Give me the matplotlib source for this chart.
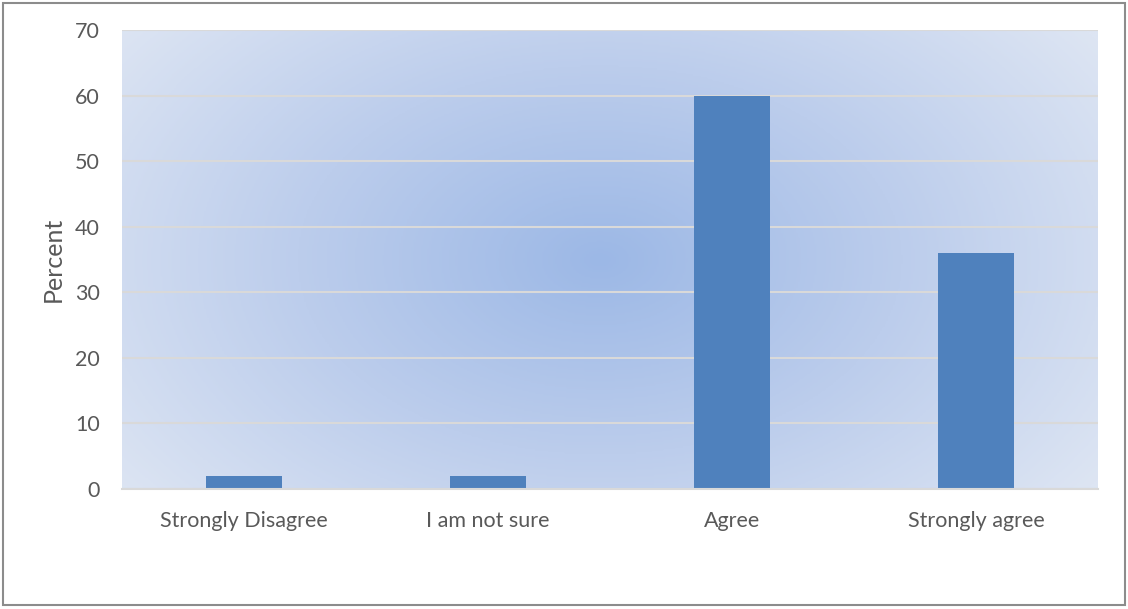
import numpy as np
import matplotlib
matplotlib.use("Agg")
import matplotlib.pyplot as plt
from matplotlib.colors import LinearSegmentedColormap
from matplotlib.patches import Rectangle

categories = ["Strongly Disagree", "I am not sure", "Agree", "Strongly agree"]
percent = [2, 2, 60, 36]
y_ticks = [0, 10, 20, 30, 40, 50, 60, 70]

W, H = 1128, 609
fig = plt.figure(figsize=(W / 100, H / 100), dpi=100)
fig.patch.set_facecolor("white")

# outer chart border
fig.add_artist(Rectangle((3 / W, 4 / H), (W - 6) / W, (H - 7) / H,
                         transform=fig.transFigure, fill=False,
                         edgecolor="#8c8c8c", linewidth=1.5))

ax = fig.add_axes([122 / W, (H - 489) / H, (1098 - 122) / W, (489 - 30) / H])

# radial gradient plot-area fill
nx, ny = 600, 300
xs = np.linspace(0, 1, nx)
ys = np.linspace(0, 1, ny)
X, Y = np.meshgrid(xs, ys)
cx, cy = (600 - 122) / (1098 - 122), (489 - 260) / (489 - 30)
R = np.sqrt(((X - cx) / 0.62) ** 2 + ((Y - cy) / 0.85) ** 2)
R = np.clip(R, 0, 1)
cmap = LinearSegmentedColormap.from_list("bg", ["#9cb8e6", "#bccdec", "#dde5f3"])
ax.imshow(R, cmap=cmap, extent=(0, 1, 0, 1), origin="lower",
          transform=ax.transAxes, aspect="auto", zorder=0, vmin=0, vmax=1)

x = np.arange(len(categories))
ax.bar(x, percent, width=0.315, color="#4f81bd", zorder=3)

ax.set_xlim(-0.5, len(categories) - 0.5)
ax.set_ylim(0, 70)
ax.set_yticks(y_ticks)
ax.set_xticks(x)
ax.set_xticklabels(categories)

font = "Lato"
for lab in ax.get_xticklabels() + ax.get_yticklabels():
    lab.set_fontfamily(font)
    lab.set_fontsize(15.5)
    lab.set_color("#595959")

ax.yaxis.grid(True, color="#d9d9d9", linewidth=1.5, zorder=1)
ax.set_axisbelow(False)
for s in ["top", "right", "left"]:
    ax.spines[s].set_visible(False)
ax.spines["bottom"].set_color("#d9d9d9")
ax.spines["bottom"].set_linewidth(1.5)
ax.spines["bottom"].set_zorder(4)
ax.tick_params(axis="both", length=0)
ax.tick_params(axis="y", pad=16)
ax.tick_params(axis="x", pad=16)

ax.set_ylabel("Percent", fontfamily=font, fontsize=18, color="#595959", labelpad=7)

fig.savefig("out.png", dpi=100)
